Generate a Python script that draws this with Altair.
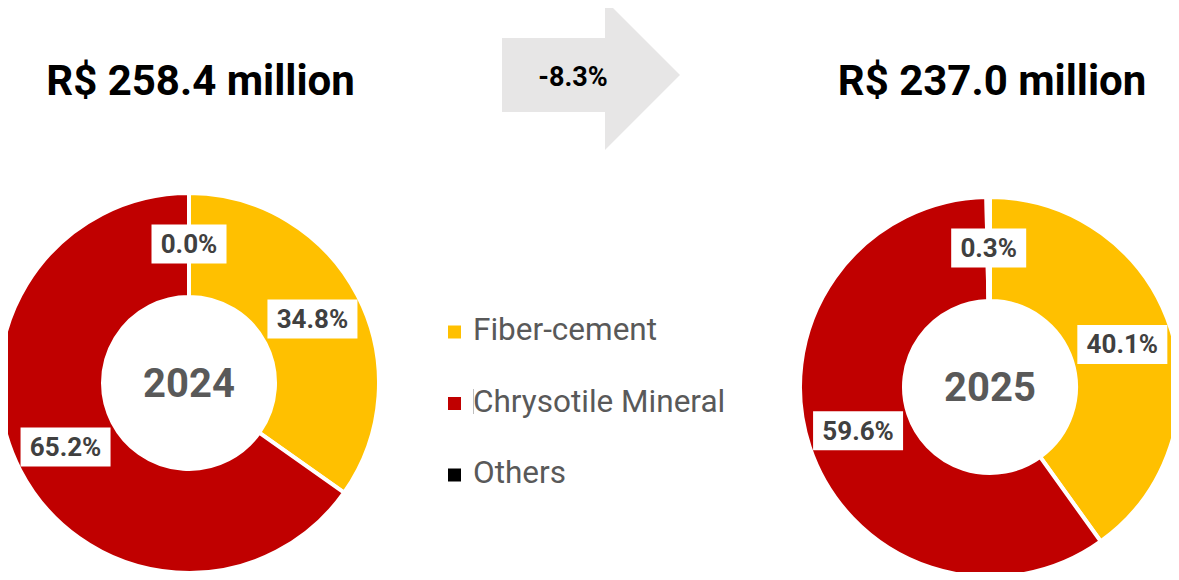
import altair as alt
import numpy as np
import pandas as pd

# ---- data ----
categories = ["Fiber-cement", "Chrysotile Mineral", "Others"]
colors = ["#FFC000", "#C00000", "#000000"]
years = ["2024", "2025"]
share_2024 = [34.8, 65.2, 0.0]
share_2025 = [40.1, 59.6, 0.3]
totals = ["R$ 258.4 million", "R$ 237.0 million"]
change_label = "-8.3%"

# ---- layout (page pixels) ----
M = 8
W, H = 1179 - 2 * M, 580 - 2 * M
centers = {"2024": (189, 383), "2025": (990, 387)}
R_OUT, R_IN, R_LAB = 190, 86, 139

rows = []
for yr, shares in zip(years, [share_2024, share_2025]):
    cum = 0.0
    cx, cy = centers[yr]
    for i, (cat, s) in enumerate(zip(categories, shares)):
        mid = (cum + s / 2) / 100 * 2 * np.pi
        cum += s
        lab = f"{s:.1f}%"
        lx = cx + R_LAB * np.sin(mid)
        ly = cy - R_LAB * np.cos(mid)
        bw = 15 * len(lab) + 15
        rows.append(dict(year=yr, category=cat, share=s, order=i, label=lab,
                         lx=lx, ly=ly, bx=lx - bw / 2, bx2=lx + bw / 2,
                         by=ly - 19.5, by2=ly + 19.5))
df = pd.DataFrame(rows)

xs = alt.Scale(domain=[M, M + W], nice=False, zero=False)
ys = alt.Scale(domain=[M, M + H], nice=False, zero=False, reverse=True)
cscale = alt.Scale(domain=categories, range=colors)
FONT = "Roboto"

layers = []
for yr in years:
    cx, cy = centers[yr]
    d = df[df.year == yr]
    base = alt.Chart(d)
    layers.append(
        base.mark_arc(innerRadius=R_IN, outerRadius=R_OUT, stroke="white", strokeWidth=4)
        .encode(
            theta=alt.Theta("share:Q", stack=True, scale=alt.Scale(domain=[0, 100])),
            color=alt.Color("category:N", scale=cscale, legend=None),
            order=alt.Order("order:Q"),
            x=alt.value(cx - M),
            y=alt.value(cy - M),
        )
    )
    # center year text
    layers.append(
        alt.Chart(pd.DataFrame({"t": [yr]})).mark_text(
            font=FONT, fontSize=40, fontWeight="bold", color="#595959",
            align="center", baseline="middle", dy=2)
        .encode(text="t:N", x=alt.value(cx - M), y=alt.value(cy - M))
    )
    layers.append(
        base.mark_rect(color="white")
        .encode(x=alt.X("bx:Q", scale=xs, axis=None), x2="bx2:Q",
                y=alt.Y("by:Q", scale=ys, axis=None), y2="by2:Q")
    )
    layers.append(
        base.mark_text(font=FONT, fontSize=26, fontWeight="bold", color="#404040",
                       align="center", baseline="middle", dy=1)
        .encode(x=alt.X("lx:Q", scale=xs, axis=None),
                y=alt.Y("ly:Q", scale=ys, axis=None), text="label:N")
    )

# titles
title_df = pd.DataFrame({"t": totals, "tx": [200.5, 992], "ty": [95, 95]})
layers.append(
    alt.Chart(title_df).mark_text(font=FONT, fontSize=42, fontWeight="bold",
                                  color="#000000", align="center", baseline="alphabetic")
    .encode(x=alt.X("tx:Q", scale=xs, axis=None), y=alt.Y("ty:Q", scale=ys, axis=None), text="t:N")
)

# arrow
arrow_path = ("M -1 -0.416 L 0.157 -0.416 L 0.157 -0.843 L 1 0 "
              "L 0.157 0.843 L 0.157 0.416 L -1 0.416 Z")
layers.append(
    alt.Chart(pd.DataFrame({"a": [0]})).mark_point(
        shape=arrow_path, filled=True, color="#E7E6E6", opacity=1, size=178 ** 2, strokeWidth=0)
    .encode(x=alt.value(591 - M), y=alt.value(75 - M))
)
layers.append(
    alt.Chart(pd.DataFrame({"t": [change_label]})).mark_text(
        font=FONT, fontSize=27, fontWeight="bold", color="#000000",
        align="center", baseline="alphabetic")
    .encode(text="t:N", x=alt.value(573 - M), y=alt.value(86 - M))
)

# custom legend
leg = pd.DataFrame({"category": categories, "i": range(len(categories))})
leg["sy"] = 332 + 71.5 * leg["i"]
leg["ty"] = 340 + 71.5 * leg["i"]
leg["sx"] = 454.5
leg["tx"] = 473
layers.append(
    alt.Chart(leg).mark_square(size=169, opacity=1)
    .encode(x=alt.X("sx:Q", scale=xs, axis=None), y=alt.Y("sy:Q", scale=ys, axis=None),
            color=alt.Color("category:N", scale=cscale, legend=None))
)
layers.append(
    alt.Chart(leg).mark_text(font=FONT, fontSize=31.5, color="#595959",
                             align="left", baseline="alphabetic")
    .encode(x=alt.X("tx:Q", scale=xs, axis=None), y=alt.Y("ty:Q", scale=ys, axis=None),
            text="category:N")
)
layers.append(
    alt.Chart(pd.DataFrame({"a": [0]})).mark_rule(color="#BFBFBF", strokeWidth=1)
    .encode(x=alt.value(473.5 - M), y=alt.value(389 - M), y2=alt.value(414 - M))
)

chart = (
    alt.layer(*layers)
    .properties(width=W, height=H, padding=0, autosize=alt.AutoSizeParams(type="none"),
                background="white")
    .configure_view(stroke=None)
)
chart.save("out.html", embed_options={"renderer": "svg", "actions": False})
